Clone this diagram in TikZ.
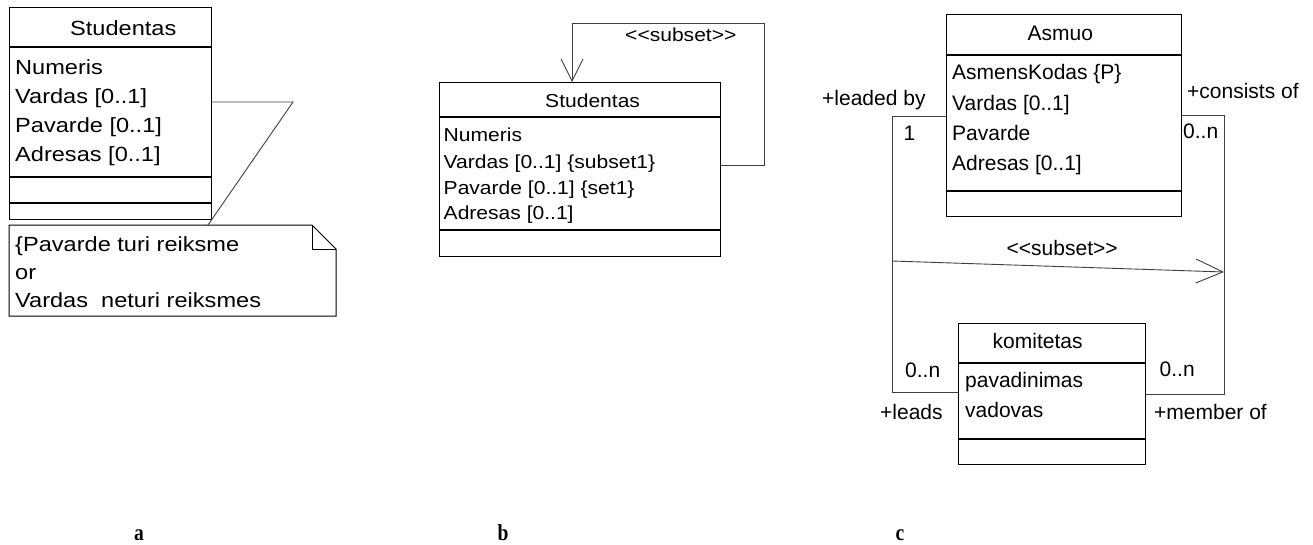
\documentclass[tikz,border=0pt]{standalone}
\usepackage{fontspec}
\setmainfont{Liberation Sans}
\newfontfamily\fa{Liberation Sans}[FakeStretch=1.15]
\newfontfamily\fb{Liberation Sans}[FakeStretch=1.12]
\newfontfamily\lab{Liberation Serif}[FakeStretch=0.85]
\usetikzlibrary{arrows.meta}
\begin{document}
\begin{tikzpicture}[x=1pt,y=-1pt,
  box/.style={draw, line width=1.1pt, inner sep=0pt, anchor=north west},
  sepline/.style={line width=1.1pt},
  txa/.style={anchor=base west, inner sep=0pt, font=\fa\fontsize{20.5}{24}\selectfont},
  txb/.style={anchor=base west, inner sep=0pt, font=\fb\fontsize{18.8}{22}\selectfont},
  txc/.style={anchor=base west, inner sep=0pt, font=\fontsize{21}{25}\selectfont},
  conn/.style={draw=black!75, line width=0.9pt},
  openarr/.style={-{Straight Barb[length=22pt,width=22pt,line width=0.9pt]}},
  figlab/.style={anchor=base, inner sep=0pt, font=\lab\bfseries\fontsize{23}{26}\selectfont}
]
\useasboundingbox (0,0) rectangle (1313,544);

% ---------------- panel a ----------------
\node[box, minimum width=202pt, minimum height=212pt] (sa) at (9,7) {};
\draw[sepline] (9,47) -- (211,47);
\draw[sepline] (9,177) -- (211,177);
\draw[sepline] (9,203) -- (211,203);
\node[txa] (saname) at (70,35) {Studentas};
\node[txa] (sa1) at (15,74) {Numeris};
\node[txa] (sa2) at (15,103) {Vardas [0..1]};
\node[txa] (sa3) at (15,132) {Pavarde [0..1]};
\node[txa] (sa4) at (15,161) {Adresas [0..1]};

\draw[line width=1pt] (9,225) -- (312,225) -- (336,249) -- (336,316) -- (9,316) -- cycle;
\draw[line width=0.9pt] (312,225) -- (312,249) -- (336,249);
\coordinate (noteA) at (208,225);
\node[txa] (n1) at (15,251) {\{Pavarde turi reiksme};
\node[txa] (n2) at (15,279) {or};
\node[txa] (n3) at (15,307) {Vardas\ \ neturi reiksmes};
\draw[conn] (sa.east |- 0,102) -- (293,102) -- (noteA);

% ---------------- panel b ----------------
\node[box, minimum width=281pt, minimum height=174pt] (sb) at (439,82) {};
\draw[sepline] (439,117) -- (720,117);
\draw[sepline] (439,230) -- (720,230);
\node[txb] (sbname) at (545,107) {Studentas};
\node[txb] (sb1) at (443.5,141) {Numeris};
\node[txb] (sb2) at (443.5,168) {Vardas [0..1] \{subset1\}};
\node[txb] (sb3) at (443.5,194.5) {Pavarde [0..1] \{set1\}};
\node[txb] (sb4) at (443.5,219.5) {Adresas [0..1]};
\coordinate (lb1) at (764,165);
\coordinate (lb2) at (764,23);
\coordinate (lb3) at (572,23);
\draw[conn, openarr] (sb.east |- 0,165) -- (lb1) -- (lb2) -- (lb3) -- (572,0 |- sb.north);
\node[txb] (sbsub) at (625,41.5) {<{}<subset>{}>};

% ---------------- panel c ----------------
\node[box, minimum width=235pt, minimum height=202pt] (sc) at (946,14) {};
\draw[sepline] (946,55) -- (1181,55);
\draw[sepline] (946,191) -- (1181,191);
\node[txc] (scname) at (1027.5,40.5) {Asmuo};
\node[txc] (sc1) at (952,79.5) {AsmensKodas \{P\}};
\node[txc] (sc2) at (952,110) {Vardas [0..1]};
\node[txc] (sc3) at (952,140) {Pavarde};
\node[txc] (sc4) at (952,170) {Adresas [0..1]};

\node[box, minimum width=187pt, minimum height=141pt] (kb) at (958,323) {};
\draw[sepline] (958,363) -- (1145,363);
\draw[sepline] (958,439) -- (1145,439);
\node[txc] (kbname) at (992.5,348.5) {komitetas};
\node[txc] (kb1) at (965,387.5) {pavadinimas};
\node[txc] (kb2) at (965,417.5) {vadovas};

\coordinate (l1) at (892,116);
\coordinate (l2) at (892,392);
\coordinate (r1) at (1224,115);
\coordinate (r2) at (1224,394);
\draw[conn] (sc.west |- 0,116) -- (l1) -- (l2) -- (kb.west |- 0,392);
\draw[conn] (sc.east |- 0,115) -- (r1) -- (r2) -- (kb.east |- 0,394);
\coordinate (s1) at (892,261);
\coordinate (s2) at (1224,272);
\draw[conn, -{Straight Barb[length=27pt,width=24pt,line width=0.9pt]}] (s1) -- (s2);
\node[txc] (scsub) at (1006.5,255) {<{}<subset>{}>};

\node[txc] (m1) at (822,105) {+leaded by};
\node[txc] (m2) at (903.5,140.5) {1};
\node[txc] (m3) at (1187,98.5) {+consists of};
\node[txc] (m4) at (1183,138.5) {0..n};
\node[txc] (m5) at (905,377.5) {0..n};
\node[txc] (m6) at (880,419) {+leads};
\node[txc] (m7) at (1159.5,376) {0..n};
\node[txc] (m8) at (1154,419) {+member of};

% ---------------- labels ----------------
\node[figlab] (la) at (139,540) {a};
\node[figlab] (lbb) at (503,540) {b};
\node[figlab] (lc) at (900,540) {c};
\end{tikzpicture}
\end{document}
